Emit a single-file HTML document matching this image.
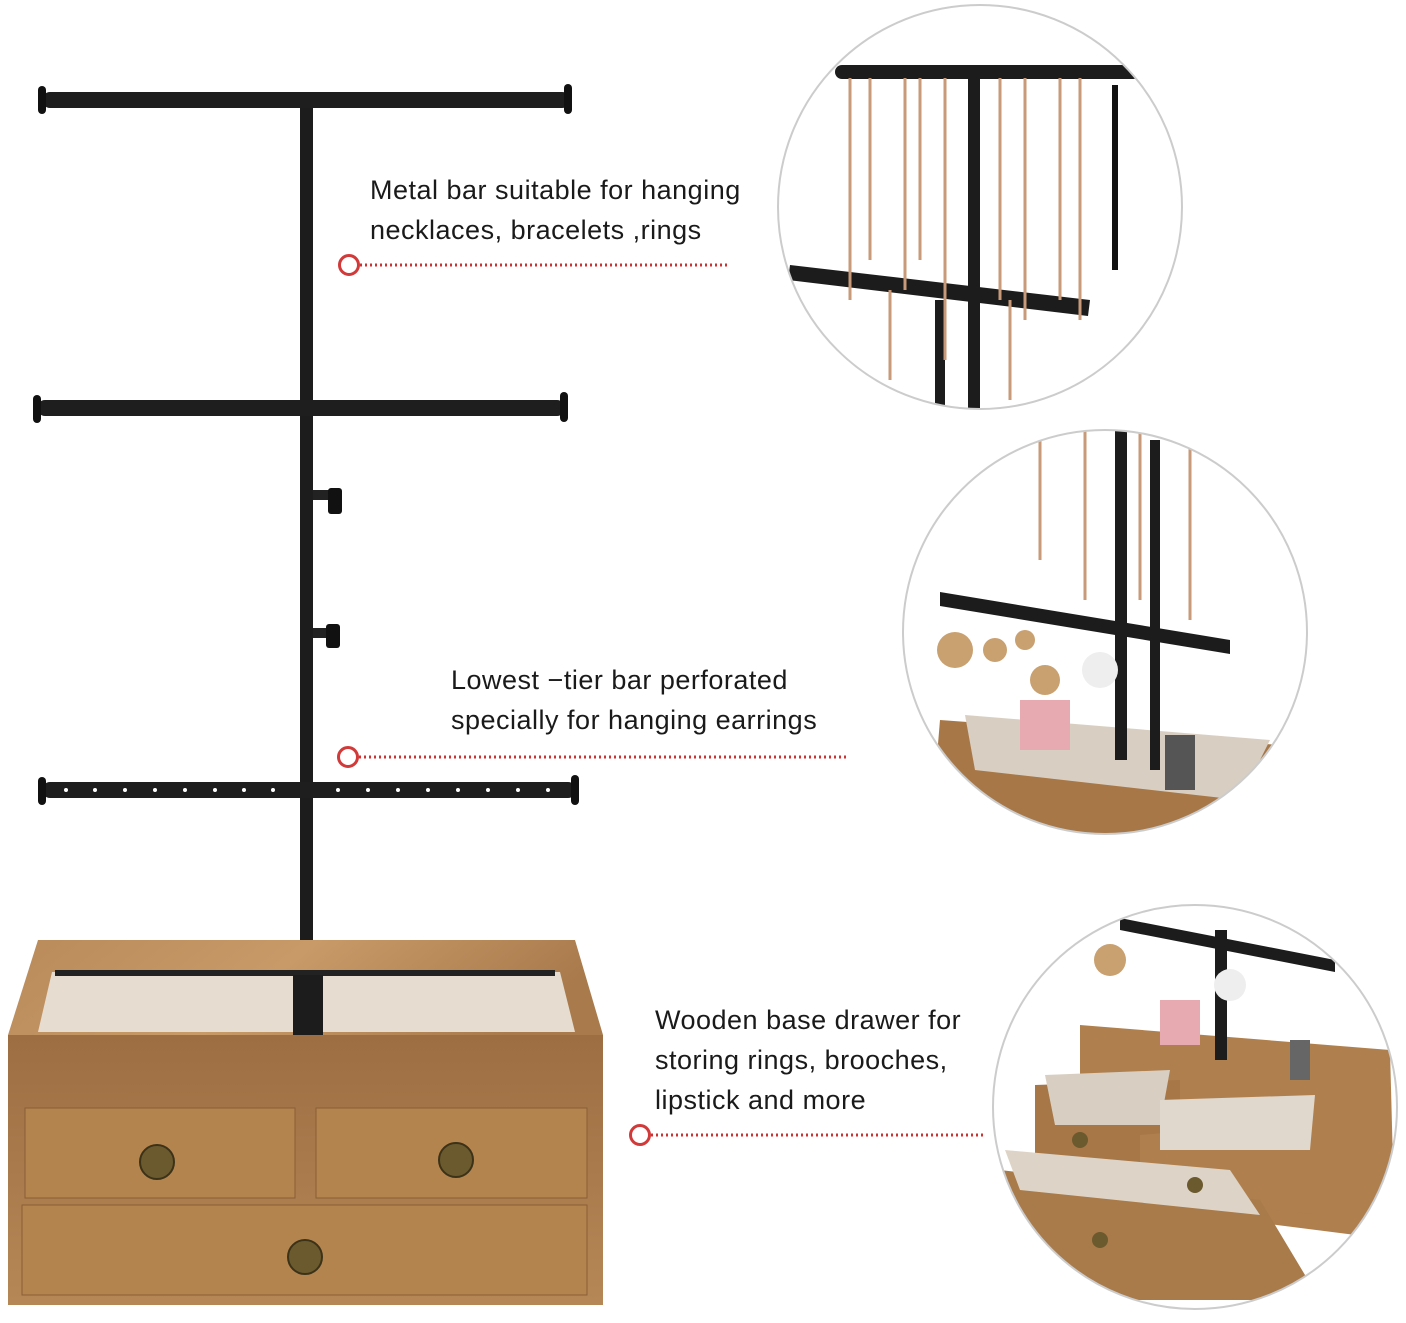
<!DOCTYPE html>
<html><head><meta charset="utf-8"><style>
html,body{margin:0;padding:0;background:#fff;}
svg{display:block}
text{font-family:"Liberation Sans",sans-serif;font-size:27px;letter-spacing:0.5px;fill:#1a1a1a}
</style></head><body>
<svg width="1406" height="1323" viewBox="0 0 1406 1323" xmlns="http://www.w3.org/2000/svg">
<defs>
<linearGradient id="wood" x1="0" y1="0" x2="1" y2="0.2">
<stop offset="0" stop-color="#b98a5a"/><stop offset="0.5" stop-color="#c89a68"/><stop offset="1" stop-color="#a97a4c"/>
</linearGradient>
<linearGradient id="woodd" x1="0" y1="0" x2="0" y2="1">
<stop offset="0" stop-color="#9c6e42"/><stop offset="1" stop-color="#b68756"/>
</linearGradient>
<clipPath id="c1"><circle cx="980" cy="207" r="202"/></clipPath>
<clipPath id="c2"><circle cx="1105" cy="632" r="202"/></clipPath>
<clipPath id="c3"><circle cx="1195" cy="1107" r="202"/></clipPath>
</defs>

<rect x="300" y="100" width="13" height="935" fill="#1c1c1c"/>
<rect x="42" y="92" width="528" height="16" rx="8" fill="#1e1e1e"/>
<rect x="38" y="86" width="8" height="28" rx="4" fill="#111"/><rect x="564" y="84" width="8" height="30" rx="4" fill="#111"/>
<rect x="37" y="400" width="528" height="16" rx="8" fill="#1e1e1e"/>
<rect x="33" y="395" width="8" height="28" rx="4" fill="#111"/><rect x="560" y="392" width="8" height="30" rx="4" fill="#111"/>
<rect x="313" y="490" width="18" height="10" fill="#222"/><rect x="328" y="488" width="14" height="26" rx="3" fill="#111"/>
<rect x="313" y="628" width="16" height="10" fill="#222"/><rect x="326" y="624" width="14" height="24" rx="3" fill="#111"/>
<rect x="42" y="782" width="534" height="16" rx="8" fill="#1e1e1e"/>
<rect x="38" y="777" width="8" height="28" rx="4" fill="#111"/><rect x="571" y="775" width="8" height="30" rx="4" fill="#111"/>
<g fill="#fff">
<circle cx="66" cy="790" r="2"/><circle cx="95" cy="790" r="2"/><circle cx="125" cy="790" r="2"/><circle cx="155" cy="790" r="2"/><circle cx="185" cy="790" r="2"/><circle cx="215" cy="790" r="2"/><circle cx="244" cy="790" r="2"/><circle cx="273" cy="790" r="2"/><circle cx="338" cy="790" r="2"/><circle cx="368" cy="790" r="2"/><circle cx="398" cy="790" r="2"/><circle cx="428" cy="790" r="2"/><circle cx="458" cy="790" r="2"/><circle cx="488" cy="790" r="2"/><circle cx="518" cy="790" r="2"/><circle cx="548" cy="790" r="2"/>
</g>

<polygon points="38,940 575,940 603,1035 8,1035" fill="url(#wood)"/>
<polygon points="52,972 560,972 575,1032 38,1032" fill="#e6ddd0"/>
<rect x="55" y="970" width="500" height="6" fill="#222"/>
<rect x="293" y="975" width="30" height="60" fill="#1c1c1c"/>
<rect x="8" y="1035" width="595" height="270" fill="url(#woodd)"/>
<rect x="25" y="1108" width="270" height="90" fill="#b4844f" stroke="#8a5e36"/>
<rect x="316" y="1108" width="271" height="90" fill="#b4844f" stroke="#8a5e36"/>
<rect x="22" y="1205" width="565" height="90" fill="#b4844f" stroke="#8a5e36"/>
<g fill="#6b5a2e" stroke="#3c3218" stroke-width="2">
<circle cx="157" cy="1162" r="17"/><circle cx="456" cy="1160" r="17"/><circle cx="305" cy="1257" r="17"/></g>

<text x="370" y="199">Metal bar suitable for hanging</text>
<text x="370" y="239">necklaces, bracelets ,rings</text>
<circle cx="349" cy="265" r="9.5" fill="#fff" stroke="#d23a3a" stroke-width="3"/>
<line x1="360" y1="265" x2="728" y2="265" stroke="#c33" stroke-width="3" stroke-dasharray="2,3"/>
<text x="451" y="689">Lowest −tier bar perforated</text>
<text x="451" y="729">specially for hanging earrings</text>
<circle cx="348" cy="757" r="9.5" fill="#fff" stroke="#d23a3a" stroke-width="3"/>
<line x1="359" y1="757" x2="848" y2="757" stroke="#c33" stroke-width="3" stroke-dasharray="2,3"/>
<text x="655" y="1029">Wooden base drawer for</text>
<text x="655" y="1069">storing rings, brooches,</text>
<text x="655" y="1109">lipstick and more</text>
<circle cx="640" cy="1135" r="9.5" fill="#fff" stroke="#d23a3a" stroke-width="3"/>
<line x1="651" y1="1135" x2="985" y2="1135" stroke="#c33" stroke-width="3" stroke-dasharray="2,3"/>

<g clip-path="url(#c1)">
<rect x="770" y="0" width="420" height="420" fill="#fff"/>
<rect x="835" y="65" width="305" height="14" rx="7" fill="#1c1c1c"/>
<rect x="968" y="75" width="12" height="340" fill="#1c1c1c"/>
<polygon points="790,265 1090,300 1088,316 788,280" fill="#1c1c1c"/>
<rect x="935" y="300" width="10" height="120" fill="#1c1c1c"/>
<g stroke="#c89a7a" stroke-width="3" fill="none">
<path d="M850 78 V300"/><path d="M870 78 V260"/><path d="M905 78 V290"/><path d="M920 78 V260"/><path d="M945 78 V360"/><path d="M1000 78 V300"/><path d="M1025 78 V320"/><path d="M1060 78 V300"/><path d="M1080 78 V320"/><path d="M890 290 V380"/><path d="M1010 300 V400"/></g>
<path d="M1115 85 V270" stroke="#111" stroke-width="6"/>
</g>
<circle cx="980" cy="207" r="202" fill="none" stroke="#ccc" stroke-width="2"/>

<g clip-path="url(#c2)">
<rect x="900" y="428" width="410" height="410" fill="#fff"/>
<polygon points="940,720 1280,745 1280,840 930,840" fill="#a77748"/>
<polygon points="965,715 1270,740 1240,800 975,770" fill="#d8cfc2"/>
<rect x="1115" y="430" width="12" height="330" fill="#1c1c1c"/><rect x="1150" y="440" width="10" height="330" fill="#1c1c1c"/>
<polygon points="940,592 1230,640 1230,654 940,606" fill="#1c1c1c"/>
<g fill="#c9a070"><circle cx="955" cy="650" r="18"/><circle cx="995" cy="650" r="12"/><circle cx="1025" cy="640" r="10"/><circle cx="1100" cy="670" r="18" fill="#eee"/><circle cx="1045" cy="680" r="15"/></g>
<rect x="1020" y="700" width="50" height="50" fill="#e6aab0"/>
<rect x="1165" y="735" width="30" height="55" fill="#555"/>
<g stroke="#c89a7a" stroke-width="3"><path d="M1040 430 V560"/><path d="M1085 430 V600"/><path d="M1140 430 V600"/><path d="M1190 440 V620"/></g>
</g>
<circle cx="1105" cy="632" r="202" fill="none" stroke="#ccc" stroke-width="2"/>

<g clip-path="url(#c3)">
<rect x="990" y="900" width="410" height="415" fill="#fff"/>
<polygon points="1080,1025 1390,1050 1395,1240 1080,1200" fill="#b07f4e"/>
<polygon points="1035,1085 1180,1080 1180,1175 1035,1170" fill="#a77748"/>
<polygon points="1045,1075 1170,1070 1160,1125 1055,1125" fill="#d8cfc2"/>
<polygon points="1140,1135 1320,1120 1320,1215 1140,1195" fill="#b07f4e"/>
<polygon points="1160,1100 1315,1095 1310,1150 1160,1150" fill="#e0d8cc"/>
<polygon points="1000,1170 1260,1200 1320,1300 1000,1300" fill="#a97a4a"/>
<polygon points="1005,1150 1230,1170 1260,1215 1020,1190" fill="#ddd4c7"/>
<polygon points="1120,918 1335,960 1335,972 1120,930" fill="#1c1c1c"/>
<rect x="1215" y="930" width="12" height="130" fill="#1c1c1c"/>
<circle cx="1110" cy="960" r="16" fill="#c9a070"/><circle cx="1230" cy="985" r="16" fill="#eee"/>
<rect x="1160" y="1000" width="40" height="45" fill="#e6aab0"/>
<rect x="1290" y="1040" width="20" height="40" fill="#666"/>
<g fill="#6b5a2e"><circle cx="1080" cy="1140" r="8"/><circle cx="1195" cy="1185" r="8"/><circle cx="1100" cy="1240" r="8"/></g>
</g>
<circle cx="1195" cy="1107" r="202" fill="none" stroke="#ccc" stroke-width="2"/>
</svg>
</body></html>
